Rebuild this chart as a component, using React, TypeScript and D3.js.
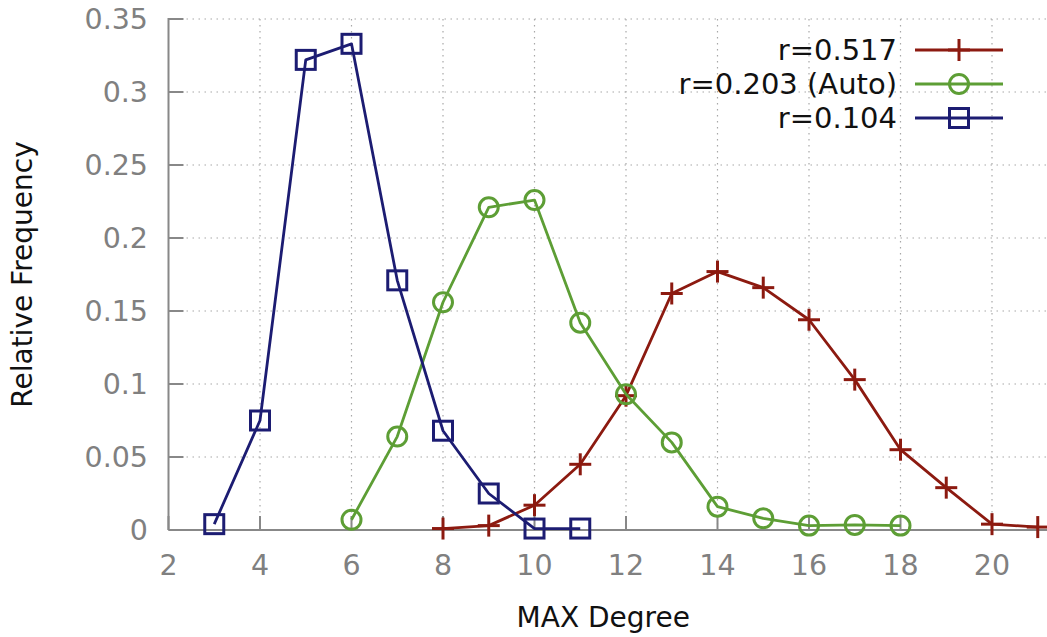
import * as d3 from 'd3'

const W = 1047
const H = 637

// MAX degree values and relative frequencies per series
const xsR517 = [8, 9, 10, 11, 12, 13, 14, 15, 16, 17, 18, 19, 20, 21]
const ysR517 = [0.001, 0.003, 0.017, 0.045, 0.092, 0.162, 0.177, 0.166, 0.144, 0.103, 0.055, 0.029, 0.004, 0.002]

const xsR203 = [6, 7, 8, 9, 10, 11, 12, 13, 14, 15, 16, 17, 18]
const ysR203 = [0.007, 0.064, 0.156, 0.221, 0.226, 0.142, 0.093, 0.06, 0.016, 0.008, 0.003, 0.0035, 0.003]

const xsR104 = [3, 4, 5, 6, 7, 8, 9, 10, 11]
const ysR104 = [0.004, 0.075, 0.322, 0.333, 0.171, 0.068, 0.025, 0.001, 0.001]

const seriesNames = ['r=0.517', 'r=0.203 (Auto)', 'r=0.104']
const seriesColors = ['#8c1a10', '#5d9e35', '#1c1c72']
const seriesMarkers = ['plus', 'circle', 'square']

const xTicks = [2, 4, 6, 8, 10, 12, 14, 16, 18, 20]
const yTicks = [0, 0.05, 0.1, 0.15, 0.2, 0.25, 0.3, 0.35]

const FONT = '"DejaVu Sans", Verdana, sans-serif'
const AXIS = '#888888'
const GRID = '#a8a8a8'

function Marker({ kind, x, y, color }: { kind: string; x: number; y: number; color: string }) {
  if (kind === 'plus') {
    return (
      <g stroke={color} strokeWidth={3}>
        <line x1={x - 11} x2={x + 11} y1={y} y2={y} />
        <line x1={x} x2={x} y1={y - 11} y2={y + 11} />
      </g>
    )
  }
  if (kind === 'circle') {
    return <circle cx={x} cy={y} r={9.5} fill="none" stroke={color} strokeWidth={3} />
  }
  return <rect x={x - 9.5} y={y - 9.5} width={19} height={19} fill="none" stroke={color} strokeWidth={3} />
}

export default function App() {
  const x = d3.scaleLinear().domain([2, 21]).range([168.5, 1037.75])
  const y = d3.scaleLinear().domain([0, 0.35]).range([530, 19])
  const left = x(2)
  const right = W
  const bottom = y(0)
  const top = y(0.35)

  const series = [
    { xs: xsR517, ys: ysR517 },
    { xs: xsR203, ys: ysR203 },
    { xs: xsR104, ys: ysR104 },
  ].map((s, i) => ({
    name: seriesNames[i],
    color: seriesColors[i],
    marker: seriesMarkers[i],
    pts: s.xs.map((v, j) => [x(v), y(s.ys[j])] as [number, number]),
  }))

  const line = d3.line<[number, number]>()
  const fmtY = (v: number) => (v === 0 ? '0' : String(+v.toFixed(2)))

  return (
    <svg
      width={W}
      height={H}
      style={{ position: 'absolute', left: 0, top: 0, background: '#fff' }}
      fontFamily={FONT}
    >
      {/* grid */}
      <g stroke={GRID} strokeWidth={1.2} strokeDasharray="1.5 4.5">
        {yTicks.slice(1).map((t) => (
          <line key={'gy' + t} x1={left} x2={right} y1={y(t)} y2={y(t)} />
        ))}
        {xTicks.slice(1).map((t) => (
          <line key={'gx' + t} x1={x(t)} x2={x(t)} y1={top} y2={bottom} />
        ))}
      </g>

      {/* axes */}
      <g stroke={AXIS} strokeWidth={2}>
        <line x1={left} x2={left} y1={top - 1} y2={bottom} />
        <line x1={left} x2={right} y1={bottom} y2={bottom} />
        {yTicks.map((t) => (
          <line key={'ty' + t} x1={left} x2={left + 15} y1={y(t)} y2={y(t)} />
        ))}
        {xTicks.map((t) => (
          <line key={'tx' + t} x1={x(t)} x2={x(t)} y1={bottom} y2={bottom - 14} />
        ))}
      </g>

      {/* tick labels */}
      <g fill="#808080" fontSize={28.5}>
        {yTicks.map((t) => (
          <text key={'ly' + t} x={148} y={y(t)} textAnchor="end" dominantBaseline="central">
            {fmtY(t)}
          </text>
        ))}
        {xTicks.map((t) => (
          <text key={'lx' + t} x={x(t)} y={575} textAnchor="middle">
            {t}
          </text>
        ))}
      </g>

      {/* axis titles */}
      <text x={(left + 1038) / 2} y={627} textAnchor="middle" fontSize={28} fill="#111">
        MAX Degree
      </text>
      <text
        transform={`translate(32,${(top + bottom) / 2}) rotate(-90)`}
        textAnchor="middle"
        fontSize={28}
        fill="#111"
      >
        Relative Frequency
      </text>

      {/* series */}
      {series.map((s) => (
        <g key={s.name}>
          <path d={line(s.pts) ?? ''} fill="none" stroke={s.color} strokeWidth={2.8} strokeLinejoin="round" />
          {s.pts.map(([px, py], j) => (
            <Marker key={j} kind={s.marker} x={px} y={py} color={s.color} />
          ))}
        </g>
      ))}

      {/* legend */}
      {series.map((s, i) => {
        const ly = 50 + i * 34
        return (
          <g key={'leg' + s.name}>
            <text x={897} y={ly} textAnchor="end" dominantBaseline="central" fontSize={29} fill="#111">
              {s.name}
            </text>
            <line x1={915} x2={1003} y1={ly} y2={ly} stroke={s.color} strokeWidth={2.8} />
            <Marker kind={s.marker} x={959} y={ly} color={s.color} />
          </g>
        )
      })}
    </svg>
  )
}
